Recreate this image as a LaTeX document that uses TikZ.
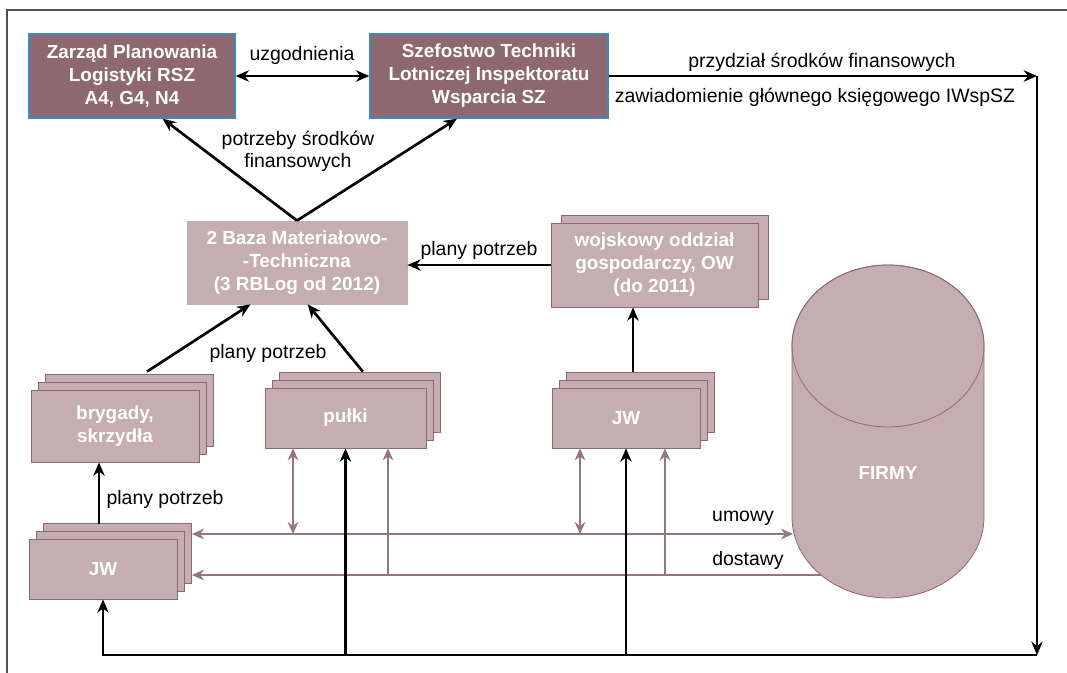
\documentclass[tikz,border=0pt]{standalone}
\usepackage{fontspec}
\setmainfont{Liberation Sans}
\usetikzlibrary{arrows.meta,shadows}
\definecolor{ciemny}{RGB}{142,104,112}
\definecolor{jasny}{RGB}{196,174,177}
\definecolor{obrys}{RGB}{62,138,186}
\definecolor{linia}{RGB}{150,118,126}
\definecolor{ramka}{RGB}{80,80,80}
\begin{document}
\begin{tikzpicture}[x=0.75pt,y=-0.75pt,
  napis/.style={font=\fontsize{14.6}{16.5}\selectfont, align=center},
  ciemnybox/.style={draw=obrys, line width=1pt, fill=ciemny, text=white,
    font=\fontsize{14.2}{17.25}\selectfont\bfseries, align=center, minimum height=63pt, inner sep=2pt},
  jasnybox/.style={draw=ciemny, line width=0.6pt, fill=jasny, text=white,
    font=\fontsize{14.2}{17.25}\selectfont\bfseries, align=center, minimum height=45pt, inner sep=2pt},
  stos/.style={double copy shadow={shadow xshift=5.4pt, shadow yshift=6pt}},
  strz/.style={line width=2pt, >={Stealth[length=10pt,width=8.5pt]}},
  mstrz/.style={line width=1.8pt, draw=linia, >={Stealth[length=9pt,width=8pt]}},
]
  \useasboundingbox (0,0) rectangle (1067,673);
  \draw[ramka, line width=1pt] (7,673) -- (7,10) -- (1067,10);

  % gora
  \node[ciemnybox, minimum width=154.5pt] (zarzad) at (132,76) {Zarząd Planowania\\Logistyki RSZ\\A4, G4, N4};
  \node[ciemnybox, minimum width=178.5pt] (szef) at (489,76) {Szefostwo Techniki\\Lotniczej Inspektoratu\\Wsparcia SZ};
  \node[jasnybox, draw=jasny, minimum width=165pt, minimum height=62.25pt] (baza) at (297,262.5) {2 Baza Materiałowo-\\-Techniczna\\(3 RBLog od 2012)};
  \node[jasnybox, copy shadow={shadow xshift=7.5pt, shadow yshift=6pt}, minimum width=155.25pt, minimum height=63pt] (wog) at (654.5,265) {wojskowy oddział\\gospodarczy, OW\\(do 2011)};

  % jednostki
  \node[jasnybox, stos, minimum width=126pt, minimum height=54pt] (bryg) at (115,426) {brygady,\\skrzydła};
  \node[jasnybox, stos, minimum width=120.75pt] (pulki) at (345.5,418) {pułki};
  \node[jasnybox, stos, minimum width=111pt] (jwb) at (626,418) {JW};
  \node[jasnybox, stos, minimum width=111pt] (jwa) at (103,569) {JW};

  % umowy, dostawy
  \coordinate (um) at (793,534);
  \coordinate (ds) at (823,575);
  \coordinate (jwr) at (192,0);
  \draw[mstrz, <->] (jwr |- um) -- (um);
  \draw[mstrz, ->] (ds) -- (jwr |- ds);
  \coordinate (p1) at (293,534);
  \coordinate (p2) at (388,575);
  \coordinate (p3) at (580,534);
  \coordinate (p4) at (665,575);
  \draw[mstrz, <->] (p1 |- pulki.south) -- (p1);
  \draw[mstrz, ->] (p2) -- (p2 |- pulki.south);
  \draw[mstrz, <->] (p3 |- jwb.south) -- (p3);
  \draw[mstrz, ->] (p4) -- (p4 |- jwb.south);
  \node[napis] (lumowy) at (743,518) {umowy};
  \node[napis] (ldostawy) at (748,560) {dostawy};

  % firmy
  \filldraw[fill=jasny, draw=ciemny, line width=0.6pt] (792,346) -- (792,517)
    arc[start angle=180, end angle=0, x radius=96, y radius=81] -- (984,346)
    arc[start angle=0, end angle=-180, x radius=96, y radius=81] -- cycle;
  \draw[ciemny, line width=0.6pt] (888,346) ellipse[x radius=96, y radius=81];
  \node[text=white, font=\fontsize{14.2}{16}\selectfont\bfseries] (firmy) at (888,473) {FIRMY};

  % potrzeby i plany
  \draw[strz, <->] (zarzad) -- (szef);
  \node[napis] (luzg) at (302,55) {uzgodnienia};
  \draw[strz, ->] (baza.north) -- ([xshift=23pt]zarzad.south);
  \draw[strz, ->] (baza.north) -- ([xshift=-24pt]szef.south);
  \node[napis] (lpotrz) at (298,151) {potrzeby środków\\finansowych};
  \draw[strz, ->] (wog.west) -- (wog.west -| baza.east);
  \node[napis] (lplan1) at (479,250) {plany potrzeb};
  \draw[strz, ->] ([xshift=24pt,yshift=13.5pt]bryg.north) -- ([xshift=-35pt]baza.south);
  \draw[strz, ->] ([xshift=13pt,yshift=12pt]pulki.north) -- ([xshift=8pt]baza.south);
  \node[napis] (lplan2) at (268,353) {plany potrzeb};
  \coordinate (j1) at (633,372);
  \draw[strz, ->] (j1) -- (j1 |- wog.south);
  \coordinate (j2) at (99,524);
  \draw[strz, ->] (j2) -- (j2 |- bryg.south);
  \node[napis] (lplan3) at (165,499) {plany potrzeb};

  % finanse
  \coordinate (rog) at (1037,76);
  \coordinate (dol) at (1037,655);
  \draw[strz, ->] (szef.east) -- (rog);
  \node[napis] (lprzydz) at (822,62) {przydział środków finansowych};
  \node[napis] (lzaw) at (815,97) {zawiadomienie głównego księgowego IWspSZ};
  \draw[strz, ->] (rog) -- (dol);
  \draw[strz, ->] (dol) -- (jwa.south |- dol) -- (jwa.south);
  \draw[strz, ->] (pulki.south |- dol) -- (pulki.south);
  \draw[strz, ->] (jwb.south |- dol) -- (jwb.south);
\end{tikzpicture}
\end{document}
